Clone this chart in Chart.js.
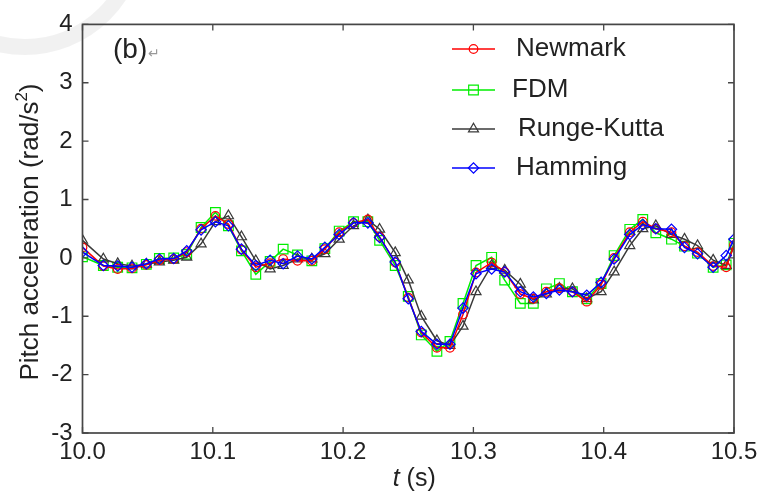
<!DOCTYPE html>
<html>
<head>
<meta charset="utf-8">
<title>Pitch acceleration</title>
<script src="https://cdn.jsdelivr.net/npm/chart.js@4.4.1/dist/chart.umd.min.js"></script>
<style>
  html, body { margin: 0; padding: 0; background: #fff; }
  #wrap { width: 771px; height: 496px; }
</style>
</head>
<body>
<div id="wrap"><canvas id="canvas1" width="771" height="496"></canvas></div>
<script>
// sample times (s)
var timeS = [10.000, 10.016, 10.027, 10.038, 10.049, 10.059, 10.070, 10.080, 10.091, 10.102,
             10.112, 10.122, 10.133, 10.144, 10.154, 10.165, 10.176, 10.186, 10.197, 10.208,
             10.219, 10.228, 10.240, 10.250, 10.260, 10.272, 10.282, 10.292, 10.302, 10.314,
             10.324, 10.336, 10.346, 10.356, 10.366, 10.376, 10.387, 10.398, 10.408, 10.420,
             10.430, 10.440, 10.452, 10.462, 10.472, 10.484, 10.494, 10.500];

// pitch acceleration (rad/s^2) for each solver
var newmark = [0.18, -0.14, -0.19, -0.18, -0.12, -0.04, -0.02, 0.10, 0.50, 0.72,
               0.58, 0.14, -0.16, -0.09, -0.02, -0.05, -0.05, 0.15, 0.44, 0.60,
               0.66, 0.36, -0.08, -0.68, -1.28, -1.54, -1.54, -0.97, -0.25, -0.08,
               -0.24, -0.62, -0.70, -0.58, -0.52, -0.58, -0.75, -0.46, 0.00, 0.44,
               0.62, 0.50, 0.44, 0.20, 0.10, -0.14, -0.16, 0.22];
var fdm = [0.02, -0.13, -0.16, -0.17, -0.11, -0.01, 0.00, 0.06, 0.52, 0.78,
           0.55, 0.12, -0.28, -0.06, 0.15, 0.05, -0.05, 0.16, 0.46, 0.62,
           0.62, 0.30, -0.13, -0.66, -1.32, -1.60, -1.43, -0.78, -0.13, 0.01,
           -0.38, -0.78, -0.78, -0.53, -0.44, -0.58, -0.70, -0.44, 0.04, 0.49,
           0.66, 0.43, 0.32, 0.20, 0.08, -0.16, -0.12, 0.25];
var rungeKutta = [0.30, -0.02, -0.10, -0.14, -0.11, -0.07, -0.04, 0.01, 0.24, 0.62,
                  0.72, 0.36, -0.05, -0.19, -0.13, -0.02, -0.02, 0.07, 0.32, 0.55,
                  0.65, 0.49, 0.09, -0.38, -1.00, -1.42, -1.50, -1.17, -0.58, -0.13,
                  -0.21, -0.45, -0.72, -0.62, -0.52, -0.53, -0.70, -0.58, -0.24, 0.21,
                  0.50, 0.55, 0.40, 0.32, 0.21, -0.04, -0.13, 0.20];
var hamming = [0.10, -0.13, -0.14, -0.16, -0.10, -0.02, -0.01, 0.12, 0.48, 0.62,
               0.55, 0.15, -0.13, -0.04, -0.10, 0.03, -0.02, 0.18, 0.40, 0.60,
               0.60, 0.35, -0.07, -0.70, -1.26, -1.48, -1.48, -0.86, -0.27, -0.19,
               -0.24, -0.58, -0.67, -0.61, -0.55, -0.58, -0.64, -0.42, -0.02, 0.40,
               0.57, 0.50, 0.49, 0.18, 0.07, -0.16, 0.04, 0.32];

var seriesNames = ['Newmark', 'FDM', 'Runge-Kutta', 'Hamming'];
var xRange = [10.0, 10.5];
var yRange = [-3, 4];

var FONT = "'Liberation Sans', Arial, sans-serif";
var AXIS_COLOR = '#464646';

function toPoints(values) {
	return values.map(function(v, i) {
		return { x: timeS[i], y: v };
	});
}

var styles = [
	{ color: '#ff0000', pointStyle: 'circle', radius: 4.3, order: 1 },
	{ color: '#00ee00', pointStyle: 'rect', radius: 6.8, order: 3 },
	{ color: '#3a3a3a', pointStyle: 'triangle', radius: 5.8, order: 2 },
	{ color: '#0000ff', pointStyle: 'rectRot', radius: 5.2, order: 0 }
];
var seriesValues = [newmark, fdm, rungeKutta, hamming];

var datasets = [];
$each = function(arr, fn) { for (var i = 0; i < arr.length; i++) fn(i, arr[i]); };
$each(seriesNames, function(i, name) {
	var s = styles[i];
	datasets.push({
		label: name,
		data: toPoints(seriesValues[i]),
		borderColor: s.color,
		backgroundColor: 'rgba(0,0,0,0)',
		borderWidth: 1.5,
		pointStyle: s.pointStyle,
		pointRadius: s.radius,
		pointBorderWidth: 1.2,
		pointBorderColor: s.color,
		pointBackgroundColor: 'rgba(0,0,0,0)',
		tension: 0,
		fill: false,
		order: s.order
	});
});

// frame, inward ticks, axis titles, legend and panel label
var decorPlugin = {
	id: 'decor',
	beforeDraw: function(chart) {
		var ctx = chart.ctx;
		ctx.save();
		ctx.strokeStyle = 'rgba(0,0,0,0.055)';
		ctx.lineWidth = 16;
		ctx.beginPath();
		ctx.arc(25, -65, 112, 0, Math.PI);
		ctx.stroke();
		ctx.restore();
	},
	afterDraw: function(chart) {
		var ctx = chart.ctx;
		var a = chart.chartArea;
		var xs = chart.scales.x, ys = chart.scales.y;
		ctx.save();
		ctx.strokeStyle = AXIS_COLOR;
		ctx.lineWidth = 1.7;
		ctx.strokeRect(a.left, a.top, a.right - a.left, a.bottom - a.top);

		var tl = 6;
		ctx.lineWidth = 1.3;
		ctx.beginPath();
		xs.ticks.forEach(function(t) {
			var px = xs.getPixelForValue(t.value);
			ctx.moveTo(px, a.bottom); ctx.lineTo(px, a.bottom - tl);
			ctx.moveTo(px, a.top); ctx.lineTo(px, a.top + tl);
		});
		ys.ticks.forEach(function(t) {
			var py = ys.getPixelForValue(t.value);
			ctx.moveTo(a.left, py); ctx.lineTo(a.left + tl, py);
			ctx.moveTo(a.right, py); ctx.lineTo(a.right - tl, py);
		});
		ctx.stroke();

		// x title: italic t, upright (s)
		ctx.fillStyle = '#222';
		ctx.textBaseline = 'middle';
		var tPart = 't', sPart = ' (s)';
		ctx.font = 'italic 25px ' + FONT;
		var w1 = ctx.measureText(tPart).width;
		ctx.font = '25px ' + FONT;
		var w2 = ctx.measureText(sPart).width;
		var cx = (a.left + a.right) / 2 + 6;
		var x0 = cx - (w1 + w2) / 2;
		ctx.textAlign = 'left';
		ctx.font = 'italic 25px ' + FONT;
		ctx.fillText(tPart, x0, 479);
		ctx.font = '25px ' + FONT;
		ctx.fillText(sPart, x0 + w1, 479);

		// y title with superscript
		ctx.save();
		ctx.translate(31, 232);
		ctx.rotate(-Math.PI / 2);
		var main = 'Pitch acceleration (rad/s', sup = '2', close = ')';
		ctx.font = '26px ' + FONT;
		var m1 = ctx.measureText(main).width, m3 = ctx.measureText(close).width;
		ctx.font = '17px ' + FONT;
		var m2 = ctx.measureText(sup).width;
		var sx = -(m1 + m2 + m3) / 2;
		ctx.font = '26px ' + FONT;
		ctx.fillText(main, sx, 0);
		ctx.font = '17px ' + FONT;
		ctx.fillText(sup, sx + m1, -9);
		ctx.font = '26px ' + FONT;
		ctx.fillText(close, sx + m1 + m2, 0);
		ctx.restore();

		// panel label
		ctx.font = '28px ' + FONT;
		ctx.fillStyle = '#222';
		ctx.fillText('(b)', 113, 50);
		var bw = ctx.measureText('(b)').width;
		ctx.font = '14px ' + FONT;
		ctx.fillStyle = '#999';
		ctx.fillText('\u21B5', 113 + bw + 1, 54);

		// legend
		var rowY = [49, 90, 129, 168];
		var textX = [516, 512, 518, 516];
		$each(seriesNames, function(i, name) {
			var s = styles[i];
			var y = rowY[i];
			ctx.strokeStyle = s.color;
			ctx.lineWidth = 1.6;
			ctx.beginPath();
			ctx.moveTo(452, y); ctx.lineTo(495, y);
			ctx.stroke();
			ctx.fillStyle = 'rgba(0,0,0,0)';
			ctx.lineWidth = 1.2;
			Chart.helpers.drawPoint(ctx, {
				pointStyle: s.pointStyle,
				radius: s.radius,
				rotation: 0,
				borderWidth: 1.2
			}, 473.5, y);
			ctx.fillStyle = '#222';
			ctx.font = '26px ' + FONT;
			ctx.textAlign = 'left';
			ctx.fillText(name, textX[i], y);
		});
		ctx.restore();
	}
};

var ctx = document.getElementById('canvas1');
var chart = new Chart(ctx, {
	type: 'line',
	data: { datasets: datasets },
	options: {
		responsive: false,
		maintainAspectRatio: false,
		animation: false,
		layout: { padding: { top: 19, right: 37, left: 0, bottom: 0 } },
		plugins: {
			legend: { display: false },
			tooltip: { enabled: false }
		},
		scales: {
			x: {
				type: 'linear',
				min: xRange[0],
				max: xRange[1],
				grid: { display: false, drawTicks: false },
				border: { display: false },
				ticks: {
					stepSize: 0.1,
					padding: 5,
					maxRotation: 0,
					color: '#222',
					font: { family: FONT, size: 24 },
					callback: function(v) { return Number(v).toFixed(1); }
				},
				afterFit: function(s) { s.height = 63; }
			},
			y: {
				min: yRange[0],
				max: yRange[1],
				grid: { display: false, drawTicks: false },
				border: { display: false },
				ticks: {
					stepSize: 1,
					padding: 10,
					color: '#222',
					font: { family: FONT, size: 24 }
				},
				afterFit: function(s) { s.width = 82.5; }
			}
		}
	},
	plugins: [decorPlugin]
});
</script>
</body>
</html>
